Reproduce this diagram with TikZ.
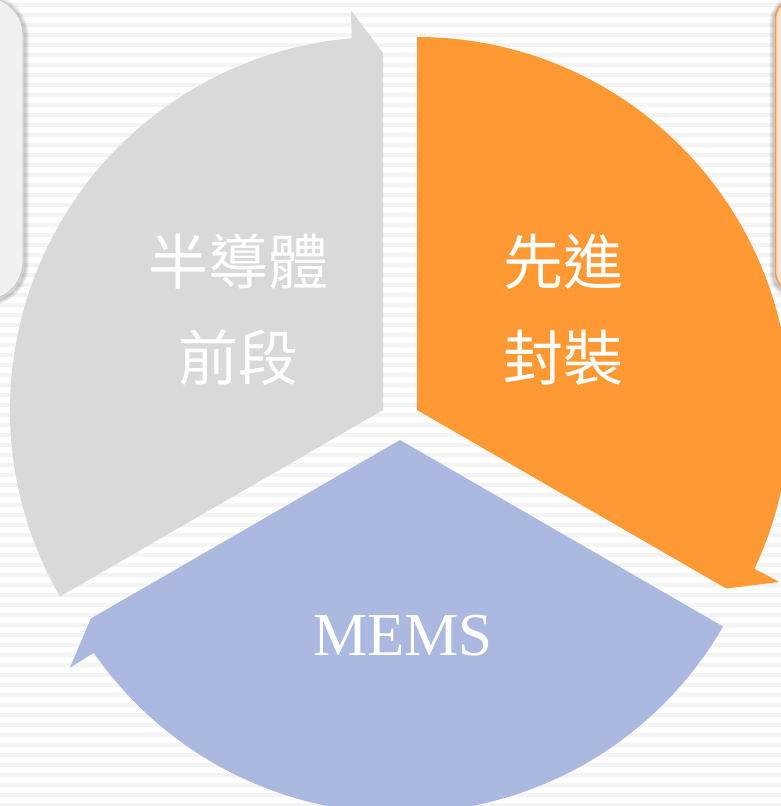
\documentclass[tikz,border=0pt]{standalone}
\usepackage{fontspec}
\setmainfont{Liberation Serif}
\newfontfamily\cjk{Noto Sans CJK TC}
\definecolor{segGray}{HTML}{D9D9D9}
\definecolor{segOrange}{HTML}{FF9933}
\definecolor{segBlue}{HTML}{ABB9E1}
\definecolor{stripeGray}{HTML}{F4F4F4}
\definecolor{boxGrayFill}{HTML}{F0F0F0}
\definecolor{boxGrayLine}{HTML}{C8C8C8}
\definecolor{boxPeach}{HTML}{FCE4D0}
\definecolor{boxOrangeLine}{HTML}{F79646}
\newcommand\cyclearrow[3]{%
  \fill[#3] (#1) -- ([shift={(#2:373)}]#1)
    arc[start angle=#2, end angle=#2-115.2, radius=373]
    -- ([shift={(#2-115.4:401)}]#1)
    -- ([shift={(#2-120:357)}]#1) -- cycle;}
\tikzset{
  cjktext/.style={text=white, align=center, font=\cjk\fontsize{60}{96}\selectfont},
  latintext/.style={text=white, font=\fontsize{61}{70}\selectfont},
}
\begin{document}
\begin{tikzpicture}[x=1pt,y=1pt]
\useasboundingbox (0,0) rectangle (781,806);
\clip (0,0) rectangle (781,806);
% background with stripes
\fill[white] (0,0) rectangle (781,806);
\foreach \i in {0,...,80}
  \fill[stripeGray] (0,{806-3-10*\i}) rectangle (781,{806-7-10*\i});
% left box with shadow
\foreach \k in {1,...,6}
  \draw[black, opacity=0.035, line width=\k*1.4pt, rounded corners=38]
    (-60,504) rectangle (25,807);
\fill[boxGrayFill, draw=boxGrayLine, line width=0.8pt, rounded corners=38]
  (-60,506) rectangle (23,809);
% right box with shadow
\foreach \k in {1,...,6}
  \draw[black, opacity=0.035, line width=\k*1.4pt, rounded corners=20]
    (773.5,512) rectangle (900,805);
\fill[boxPeach, draw=boxOrangeLine, line width=1.5pt, rounded corners=20]
  (775.5,514) rectangle (900,807);
% cycle segments
\coordinate (G) at (383,396);
\coordinate (O) at (417,396);
\coordinate (B) at (400,366);
\cyclearrow{G}{210}{segGray}
\cyclearrow{O}{90}{segOrange}
\cyclearrow{B}{-30}{segBlue}
% labels
\node[cjktext] (front) at (238,496) {半導體\\前段};
\node[cjktext] (pack) at (563,496) {先進\\封裝};
\node[latintext] (mems) at (403,170) {MEMS};
\end{tikzpicture}
\end{document}
